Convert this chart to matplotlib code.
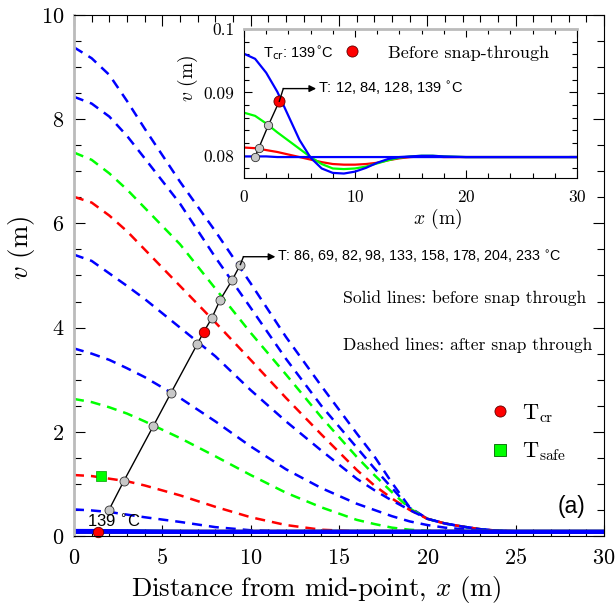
import matplotlib
matplotlib.use("Agg")
import matplotlib.pyplot as plt
from matplotlib.lines import Line2D
from matplotlib.ticker import MultipleLocator

plt.rcParams["font.family"] = "cmr10"
plt.rcParams["mathtext.fontset"] = "cm"
plt.rcParams["axes.formatter.use_mathtext"] = True

# post snap-through deflection v (m) vs distance x (m), dashed curves
x_post = [0, 1, 2, 3, 4, 6, 8, 10, 12, 14, 16, 17, 18, 19, 20, 21, 22, 23, 24, 25, 27, 30]
v_post_1 = [9.38, 9.17, 8.85, 8.35, 7.82, 6.80, 5.85, 4.85, 3.82, 2.88, 1.97, 1.53, 1.02, 0.55, 0.33, 0.24, 0.18, 0.13, 0.10, 0.09, 0.082, 0.08]
v_post_2 = [8.43, 8.30, 8.05, 7.68, 7.25, 6.38, 5.35, 4.38, 3.40, 2.50, 1.70, 1.30, 0.92, 0.54, 0.33, 0.24, 0.18, 0.13, 0.10, 0.09, 0.082, 0.08]
v_post_3 = [7.36, 7.22, 6.96, 6.65, 6.30, 5.60, 4.75, 3.90, 3.10, 2.28, 1.52, 1.17, 0.84, 0.53, 0.33, 0.24, 0.18, 0.13, 0.10, 0.09, 0.082, 0.08]
v_post_4 = [6.51, 6.40, 6.15, 5.85, 5.50, 4.80, 4.10, 3.38, 2.65, 1.95, 1.27, 0.97, 0.72, 0.50, 0.33, 0.24, 0.18, 0.13, 0.10, 0.09, 0.082, 0.08]
v_post_5 = [5.40, 5.28, 5.04, 4.80, 4.55, 4.00, 3.45, 2.80, 2.20, 1.64, 1.10, 0.88, 0.68, 0.50, 0.33, 0.24, 0.18, 0.13, 0.10, 0.09, 0.082, 0.08]
v_post_6 = [3.60, 3.50, 3.38, 3.22, 3.05, 2.65, 2.20, 1.72, 1.28, 0.92, 0.62, 0.50, 0.38, 0.28, 0.21, 0.16, 0.13, 0.11, 0.095, 0.088, 0.082, 0.08]
v_post_7 = [2.63, 2.57, 2.47, 2.35, 2.20, 1.88, 1.53, 1.17, 0.83, 0.55, 0.31, 0.23, 0.16, 0.12, 0.10, 0.09, 0.085, 0.083, 0.082, 0.081, 0.08, 0.08]
v_post_8 = [1.17, 1.15, 1.10, 1.05, 0.97, 0.78, 0.56, 0.36, 0.21, 0.12, 0.09, 0.085, 0.082, 0.081, 0.08, 0.08, 0.08, 0.08, 0.08, 0.08, 0.08, 0.08]
v_post_9 = [0.51, 0.49, 0.46, 0.41, 0.36, 0.27, 0.17, 0.11, 0.09, 0.082, 0.08, 0.08, 0.08, 0.08, 0.08, 0.08, 0.08, 0.08, 0.08, 0.08, 0.08, 0.08]
post_curves = [v_post_1, v_post_2, v_post_3, v_post_4, v_post_5, v_post_6, v_post_7, v_post_8, v_post_9]
post_colors = ["blue", "blue", "#00ff00", "red", "blue", "blue", "#00ff00", "red", "blue"]

# pre snap-through deflection (solid curves), T = 12, 84, 128, 139 C
x_pre = [0, 1, 2, 3, 4, 5, 6, 7, 8, 9, 10, 11, 12, 13, 14, 15, 16, 17, 18, 20, 25, 30]
v_pre_12 = [0.0799, 0.0799, 0.0799, 0.0798, 0.0798, 0.0798, 0.0798, 0.0798, 0.0798, 0.0798, 0.0798, 0.0798, 0.0798, 0.0798, 0.0798, 0.0798, 0.0798, 0.0798, 0.0798, 0.0798, 0.0798, 0.0798]
v_pre_84 = [0.0813, 0.0812, 0.0809, 0.0806, 0.0802, 0.0798, 0.0794, 0.0790, 0.0787, 0.0786, 0.0786, 0.0787, 0.0789, 0.0793, 0.0796, 0.0798, 0.0799, 0.0799, 0.0798, 0.0798, 0.0798, 0.0798]
v_pre_128 = [0.0868, 0.0863, 0.0851, 0.0837, 0.0824, 0.0811, 0.0798, 0.0787, 0.0780, 0.0779, 0.0780, 0.0783, 0.0788, 0.0793, 0.0797, 0.0799, 0.0800, 0.0800, 0.0799, 0.0798, 0.0798, 0.0798]
v_pre_139 = [0.0961, 0.0953, 0.0931, 0.0901, 0.0863, 0.0825, 0.0797, 0.0780, 0.0773, 0.0772, 0.0775, 0.0781, 0.0789, 0.0795, 0.0798, 0.0799, 0.0800, 0.0800, 0.0799, 0.0798, 0.0798, 0.0798]
pre_curves = [v_pre_84, v_pre_128, v_pre_139, v_pre_12]
pre_colors = ["red", "#00ff00", "blue", "blue"]

# mid-span points traced on each post snap-through curve
path_x = [1.98, 2.83, 4.49, 5.48, 6.99, 7.80, 8.27, 8.95, 9.42]
path_v = [0.50, 1.06, 2.11, 2.74, 3.69, 4.18, 4.53, 4.91, 5.21]
crit_post = (7.35, 3.92)
crit_pre_main = (1.36, 0.08)
safe_point = (1.51, 1.15)

# traced points on pre snap-through curves (inset)
inset_path_x = [0.99, 1.35, 2.19]
inset_path_v = [0.0798, 0.0813, 0.0848]
inset_crit = (3.18, 0.0886)

gray = "#c8c8c8"

fig = plt.figure(figsize=(6.16, 6.07), dpi=100)
ax = fig.add_axes([0.1201, 0.1170, 0.8604, 0.8583])

for v, c in zip(post_curves, post_colors):
    ax.plot(x_post, v, color=c, lw=1.8, ls=(0, (4.0, 2.8)))
for v, c in zip(pre_curves, pre_colors):
    ax.plot(x_pre, v, color=c, lw=3.0)

ax.plot(path_x[:5] + [crit_post[0]] + path_x[5:], path_v[:5] + [crit_post[1]] + path_v[5:],
        color="k", lw=1.0)
ax.plot(path_x, path_v, ls="none", marker="o", ms=6.5, mfc=gray, mec="#303030", mew=0.6)
ax.plot(*crit_post, marker="o", ms=7.5, mfc="red", mec="#600000", mew=0.6)
ax.plot(*crit_pre_main, marker="o", ms=7.5, mfc="red", mec="#600000", mew=0.6, clip_on=False)
ax.plot(*safe_point, marker="s", ms=7.5, mfc="#00ff00", mec="#00a000", mew=0.5)

# leader line to the temperature list
ax.plot([path_x[-1], 9.59], [path_v[-1], 5.36], color="k", lw=1.0)
ax.annotate("", xy=(11.4, 5.36), xytext=(9.59, 5.36),
            arrowprops=dict(arrowstyle="-|>", color="k", lw=1.0, mutation_scale=10,
                            shrinkA=0, shrinkB=0))
ax.text(11.5, 5.36, r"T: 86, 69, 82, 98, 133, 158, 178, 204, 233 $^{\circ}$C",
        family="Liberation Sans", math_fontfamily="dejavusans", fontsize=10.3, va="center")
ax.text(0.74, 0.29, r"139 $^{\circ}$C", family="Liberation Sans",
        math_fontfamily="dejavusans", fontsize=12, va="center")

ax.text(15.24, 4.57, "Solid lines: before snap through", fontsize=12.7, va="center")
ax.text(15.24, 3.67, "Dashed lines: after snap through", fontsize=12.6, va="center")
ax.text(28.95, 0.56, "(a)", family="Liberation Sans", fontsize=16.5, ha="right", va="center")

handles = [Line2D([], [], ls="none", marker="o", ms=8, mfc="red", mec="#600000", mew=0.6),
           Line2D([], [], ls="none", marker="s", ms=8.5, mfc="#00ff00", mec="#006000", mew=0.6)]
ax.legend(handles, [r"T$_{\mathrm{cr}}$", r"T$_{\mathrm{safe}}$"], loc="center left",
          bbox_to_anchor=(0.783, 0.198), frameon=False, fontsize=16, handlelength=1.0,
          handletextpad=0.5, labelspacing=0.7, borderpad=0, borderaxespad=0)

ax.set_xlim(0, 30)
ax.set_ylim(0, 10)
ax.xaxis.set_major_locator(MultipleLocator(5))
ax.xaxis.set_minor_locator(MultipleLocator(1))
ax.yaxis.set_major_locator(MultipleLocator(2))
ax.yaxis.set_minor_locator(MultipleLocator(0.5))
ax.tick_params(which="both", direction="in", top=True, right=True, labelsize=16)
ax.tick_params(which="major", length=8, width=0.8)
ax.tick_params(which="minor", length=5, width=0.8)
ax.tick_params(axis="x", pad=9)
ax.tick_params(axis="y", pad=7)
ax.spines["left"].set_color("#bbbbbb")
ax.spines["left"].set_linewidth(2)
ax.set_xlabel(r"Distance from mid-point, $x$ (m)", fontsize=19.3)
ax.set_ylabel(r"$v$ (m)", fontsize=19.3)
ax.xaxis.set_label_coords(0.457, -0.073)
ax.yaxis.set_label_coords(-0.07, 0.553)

# inset: before snap-through
axin = fig.add_axes([0.3961, 0.7068, 0.5406, 0.2454])
for v, c in zip(pre_curves, pre_colors):
    axin.plot(x_pre, v, color=c, lw=1.6)
axin.plot(inset_path_x + [inset_crit[0]], inset_path_v + [inset_crit[1]], color="k", lw=1.0)
axin.plot(inset_path_x, inset_path_v, ls="none", marker="o", ms=6, mfc=gray, mec="#303030", mew=0.6)
axin.plot(*inset_crit, marker="o", ms=8, mfc="red", mec="#600000", mew=0.6)
axin.plot([inset_crit[0], 3.54], [inset_crit[1], 0.0906], color="k", lw=1.0)
axin.annotate("", xy=(6.5, 0.0906), xytext=(3.54, 0.0906),
              arrowprops=dict(arrowstyle="-|>", color="k", lw=1.0, mutation_scale=10,
                              shrinkA=0, shrinkB=0))
axin.text(6.67, 0.0906, r"T: 12, 84, 128, 139 $^{\circ}$C", family="Liberation Sans",
          math_fontfamily="dejavusans", fontsize=10.5, va="center")
axin.text(1.71, 0.0962, r"T$_{\mathrm{cr}}$: 139$^{\circ}$C", family="Liberation Sans",
          math_fontfamily="dejavusans", fontsize=10.5, va="center")
axin.legend([Line2D([], [], ls="none", marker="o", ms=8, mfc="red", mec="#600000", mew=0.6)],
            ["Before snap-through"], loc="center left", bbox_to_anchor=(0.303, 0.839),
            frameon=False, fontsize=13, handlelength=0.8, handletextpad=1.6,
            borderpad=0, borderaxespad=0)

axin.set_xlim(0, 30)
axin.set_ylim(0.0765, 0.1)
axin.set_xticks([0, 10, 20, 30])
axin.set_yticks([0.08, 0.09, 0.1], labels=["0.08", "0.09", "0.1"])
axin.xaxis.set_minor_locator(MultipleLocator(2))
axin.yaxis.set_minor_locator(MultipleLocator(0.002))
axin.tick_params(which="both", direction="in", top=True, right=True, labelsize=12.5)
axin.tick_params(which="major", length=6, width=0.8)
axin.tick_params(which="minor", length=3.5, width=0.8)
axin.tick_params(axis="x", pad=8)
axin.tick_params(axis="y", pad=7)
axin.spines["top"].set_color("#bbbbbb")
axin.spines["top"].set_linewidth(2)
axin.set_xlabel(r"$x$ (m)", fontsize=14)
axin.set_ylabel(r"$v$ (m)", fontsize=14)
axin.xaxis.set_label_coords(0.58, -0.195)
axin.yaxis.set_label_coords(-0.132, 0.671)

fig.savefig("out.png", dpi=100)
